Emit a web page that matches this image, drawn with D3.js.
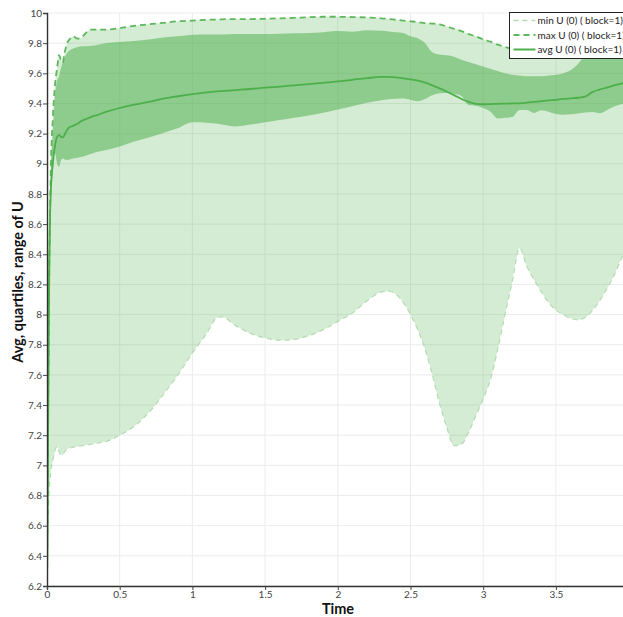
<!DOCTYPE html>
<html>
<head>
<meta charset="utf-8">
<script src="https://cdn.jsdelivr.net/npm/d3@7/dist/d3.min.js"></script>
<style>
  html, body { margin: 0; padding: 0; background: #fff; }
  svg { display: block; font-family: Lato, "DejaVu Sans", sans-serif; }
</style>
</head>
<body>
<svg id="chart" width="623" height="617"></svg>
<script>
// Sample times
const time = [0, 0.006, 0.012, 0.025, 0.04, 0.055, 0.07, 0.083, 0.095, 0.108, 0.12, 0.135, 0.16, 0.18, 0.21, 0.24, 0.27, 0.3, 0.35, 0.4, 0.5, 0.6, 0.7, 0.8, 0.9, 1.0, 1.1, 1.17, 1.2, 1.3, 1.4, 1.5, 1.6, 1.7, 1.8, 1.9, 2.0, 2.1, 2.2, 2.3, 2.35, 2.4, 2.45, 2.5, 2.55, 2.6, 2.65, 2.7, 2.75, 2.8, 2.85, 2.9, 2.95, 3.0, 3.05, 3.1, 3.15, 3.2, 3.25, 3.3, 3.35, 3.4, 3.45, 3.5, 3.55, 3.6, 3.65, 3.7, 3.75, 3.8, 3.85, 3.9, 3.95, 4.0];

// min U (0) ( block=1)
const minU = [6.2, 6.4, 6.75, 6.95, 7.03, 7.1, 7.124, 7.09, 7.07, 7.07, 7.09, 7.105, 7.115, 7.12, 7.125, 7.13, 7.135, 7.14, 7.148, 7.157, 7.2, 7.26, 7.35, 7.47, 7.6, 7.745, 7.878, 7.98, 7.985, 7.925, 7.875, 7.845, 7.83, 7.835, 7.86, 7.9, 7.955, 8.01, 8.09, 8.15, 8.155, 8.135, 8.08, 8.0, 7.9, 7.77, 7.6, 7.41, 7.25, 7.13, 7.14, 7.22, 7.33, 7.44, 7.57, 7.77, 8.0, 8.22, 8.44, 8.32, 8.23, 8.15, 8.08, 8.03, 8.0, 7.975, 7.965, 7.98, 8.025, 8.09, 8.17, 8.26, 8.37, 8.47];

// lower quartile
const q1U = [6.0, 6.0, 7.5, 8.6, 8.95, 9.07, 9.0, 8.98, 9.02, 9.035, 9.03, 9.025, 9.03, 9.035, 9.04, 9.047, 9.055, 9.065, 9.08, 9.09, 9.115, 9.148, 9.175, 9.205, 9.235, 9.275, 9.272, 9.265, 9.26, 9.248, 9.26, 9.275, 9.29, 9.305, 9.32, 9.338, 9.36, 9.382, 9.405, 9.422, 9.428, 9.432, 9.433, 9.425, 9.415, 9.43, 9.455, 9.468, 9.47, 9.465, 9.45, 9.39, 9.385, 9.37, 9.345, 9.3, 9.305, 9.31, 9.357, 9.357, 9.337, 9.355, 9.345, 9.33, 9.325, 9.328, 9.334, 9.34, 9.343, 9.335, 9.355, 9.38, 9.395, 9.41];

// avg U (0) ( block=1)
const avgU = [6.2, 7.0, 7.9, 8.8, 9.0, 9.12, 9.18, 9.19, 9.18, 9.175, 9.19, 9.22, 9.245, 9.252, 9.265, 9.285, 9.298, 9.31, 9.325, 9.342, 9.37, 9.392, 9.41, 9.432, 9.448, 9.462, 9.474, 9.48, 9.482, 9.489, 9.496, 9.505, 9.512, 9.52, 9.528, 9.537, 9.546, 9.557, 9.568, 9.576, 9.576, 9.573, 9.567, 9.56, 9.552, 9.538, 9.52, 9.5, 9.478, 9.455, 9.43, 9.41, 9.398, 9.395, 9.396, 9.398, 9.399, 9.4, 9.401, 9.405, 9.41, 9.415, 9.42, 9.424, 9.43, 9.434, 9.438, 9.445, 9.475, 9.492, 9.505, 9.52, 9.532, 9.545];

// upper quartile
const q3U = [10.5, 10.5, 8.2, 8.9, 9.2, 9.45, 9.55, 9.58, 9.63, 9.67, 9.7, 9.73, 9.755, 9.765, 9.775, 9.78, 9.78, 9.782, 9.79, 9.8, 9.808, 9.815, 9.825, 9.838, 9.845, 9.855, 9.857, 9.858, 9.858, 9.86, 9.86, 9.86, 9.862, 9.865, 9.868, 9.873, 9.88, 9.876, 9.886, 9.882, 9.878, 9.872, 9.868, 9.845, 9.832, 9.8, 9.74, 9.725, 9.72, 9.71, 9.69, 9.675, 9.66, 9.645, 9.63, 9.615, 9.6, 9.59, 9.585, 9.58, 9.58, 9.58, 9.585, 9.59, 9.6, 9.62, 9.66, 9.72, 9.76, 9.79, 9.81, 9.83, 9.845, 9.86];

// max U (0) ( block=1)
const maxU = [6.2, 7.0, 7.9, 8.9, 9.3, 9.52, 9.64, 9.72, 9.69, 9.67, 9.73, 9.79, 9.83, 9.845, 9.83, 9.84, 9.87, 9.89, 9.89, 9.89, 9.9, 9.915, 9.925, 9.935, 9.945, 9.95, 9.955, 9.957, 9.958, 9.96, 9.96, 9.962, 9.965, 9.968, 9.972, 9.975, 9.975, 9.973, 9.97, 9.965, 9.96, 9.955, 9.95, 9.945, 9.94, 9.933, 9.93, 9.925, 9.91, 9.895, 9.88, 9.86, 9.845, 9.825, 9.81, 9.79, 9.775, 9.76, 9.75, 9.745, 9.745, 9.75, 9.755, 9.76, 9.765, 9.77, 9.78, 9.79, 9.8, 9.81, 9.82, 9.83, 9.84, 9.85];

const xTicks = [0, 0.5, 1, 1.5, 2, 2.5, 3, 3.5];
const yTicks = [6.2, 6.4, 6.6, 6.8, 7, 7.2, 7.4, 7.6, 7.8, 8, 8.2, 8.4, 8.6, 8.8, 9, 9.2, 9.4, 9.6, 9.8, 10];
const legendLabels = ["min U (0) ( block=1)", "max U (0) ( block=1)", "avg U (0) ( block=1)"];

const green = "#4daf4a";

const svg = d3.select("#chart");
const margin = { left: 47, top: 13, bottom: 31 };
const H = 617;

const x = d3.scaleLinear().domain([0, 4]).range([margin.left, margin.left + 4 * 145.4]);
const y = d3.scaleLinear().domain([6.2, 10]).range([H - margin.bottom, margin.top]);

const rows = time.map((t, i) => ({ t, min: minU[i], q1: q1U[i], avg: avgU[i], q3: q3U[i], max: maxU[i] }));

svg.append("defs").append("clipPath").attr("id", "plotClip")
  .append("rect")
  .attr("x", x(0)).attr("y", y(10))
  .attr("width", x(4) - x(0)).attr("height", y(6.2) - y(10));

// grid
const grid = svg.append("g");
grid.selectAll("line.h").data(yTicks).join("line")
  .attr("x1", x(0)).attr("x2", x(4))
  .attr("y1", d => y(d)).attr("y2", d => y(d))
  .attr("stroke", "#ececec").attr("stroke-width", 1);
grid.selectAll("line.v").data(xTicks.slice(1)).join("line")
  .attr("x1", d => x(d)).attr("x2", d => x(d))
  .attr("y1", y(10)).attr("y2", y(6.2))
  .attr("stroke", "#ececec").attr("stroke-width", 1);

const plot = svg.append("g").attr("clip-path", "url(#plotClip)");

const curve = d3.curveMonotoneX;

// range band (min..max)
plot.append("path").datum(rows)
  .attr("d", d3.area().curve(curve).x(d => x(d.t)).y0(d => y(d.min)).y1(d => y(d.max)))
  .attr("fill", green).attr("fill-opacity", 0.245);

// quartile band (q1..q3)
plot.append("path").datum(rows)
  .attr("d", d3.area().curve(curve).x(d => x(d.t)).y0(d => y(d.q1)).y1(d => y(d.q3)))
  .attr("fill", green).attr("fill-opacity", 0.52);

// min line
plot.append("path").datum(rows)
  .attr("d", d3.line().curve(curve).x(d => x(d.t)).y(d => y(d.min)))
  .attr("fill", "none").attr("stroke", "#b3dcb0").attr("stroke-width", 1.2)
  .attr("stroke-dasharray", "5,4");

// max line
plot.append("path").datum(rows)
  .attr("d", d3.line().curve(curve).x(d => x(d.t)).y(d => y(d.max)))
  .attr("fill", "none").attr("stroke", "#5cb85a").attr("stroke-width", 1.8)
  .attr("stroke-dasharray", "6,4");

// avg line
plot.append("path").datum(rows)
  .attr("d", d3.line().curve(curve).x(d => x(d.t)).y(d => y(d.avg)))
  .attr("fill", "none").attr("stroke", green).attr("stroke-width", 1.8);

// axes
const fmt = d => String(+d.toFixed(1));
const yAxis = svg.append("g").attr("transform", `translate(${x(0)},0)`)
  .call(d3.axisLeft(y).tickValues(yTicks).tickFormat(fmt).tickSize(4).tickPadding(1));
const xAxis = svg.append("g").attr("transform", `translate(0,${y(6.2)})`)
  .call(d3.axisBottom(x).tickValues(xTicks).tickFormat(fmt).tickSize(4).tickPadding(1));
[yAxis, xAxis].forEach(a => {
  a.select(".domain").attr("stroke", "#333").attr("stroke-width", 1.4);
  a.selectAll(".tick line").attr("stroke", "#444");
  a.selectAll(".tick text").attr("fill", "#444").style("font-size", "10px")
    .style("font-family", "Lato, 'DejaVu Sans', sans-serif");
});

// axis titles
svg.append("text")
  .attr("x", 338).attr("y", 614)
  .attr("text-anchor", "middle")
  .style("font-size", "14.5px").style("font-weight", "bold").attr("fill", "#111")
  .text("Time");
svg.append("text")
  .attr("transform", "translate(23,282) rotate(-90)")
  .attr("text-anchor", "middle")
  .style("font-size", "14.5px").style("font-weight", "bold").attr("fill", "#111")
  .text("Avg, quartiles, range of U");

// legend
const lg = svg.append("g").attr("transform", "translate(509.5,12.5)");
lg.append("rect").attr("width", 120).attr("height", 46)
  .attr("fill", "#fff").attr("stroke", "#222").attr("stroke-width", 1);
const legendStyles = [
  { stroke: "#b3dcb0", dash: "5,4", w: 1.5 },
  { stroke: "#5cb85a", dash: "6,4", w: 2 },
  { stroke: green, dash: null, w: 2 }
];
legendLabels.forEach((lab, i) => {
  const yy = 8 + i * 14.5;
  lg.append("line").attr("x1", 4).attr("x2", 26).attr("y1", yy).attr("y2", yy)
    .attr("stroke", legendStyles[i].stroke).attr("stroke-width", legendStyles[i].w)
    .attr("stroke-dasharray", legendStyles[i].dash);
  lg.append("text").attr("x", 28).attr("y", yy + 3.5)
    .style("font-size", "10px").attr("fill", "#222").text(lab);
});
</script>
</body>
</html>
